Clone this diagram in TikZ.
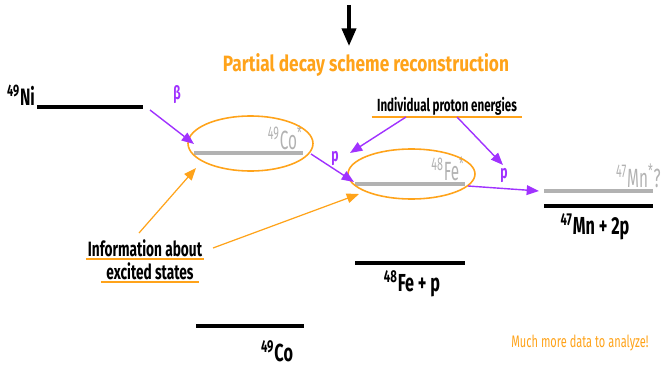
\documentclass[tikz,border=0pt]{standalone}
\usepackage{fontspec}
\setmainfont[FakeStretch=0.66]{Fira Sans}
\newfontfamily\titlefont[FakeStretch=0.78]{Fira Sans}
\newfontfamily\exfont[FakeStretch=0.58]{Fira Sans}
\usetikzlibrary{arrows.meta,positioning,calc,shapes.geometric}
\definecolor{decayorange}{RGB}{255,163,26}
\definecolor{decaypurple}{RGB}{160,50,255}
\definecolor{levelgray}{RGB}{178,178,178}
\tikzset{
  level/.style={line width=2.4pt},
  exlevel/.style={line width=2.4pt, levelgray},
  pline/.style={decaypurple, line width=0.8pt, -{Triangle[length=7pt,width=5.5pt]}},
  oline/.style={decayorange, line width=0.7pt, -{Triangle[length=7pt,width=5.5pt]}},
  uline/.style={decayorange, line width=1pt},
  region/.style={ellipse, draw=decayorange, line width=0.9pt, inner sep=0pt},
  lab/.style={font=\fontsize{13.5}{15}\selectfont\bfseries},
  exlab/.style={font=\exfont\fontsize{15}{16}\selectfont, levelgray},
  note/.style={font=\fontsize{10.5}{12}\selectfont\bfseries, inner sep=1pt}
}

\begin{document}
\begin{tikzpicture}[x=0.02cm, y=-0.02cm]
    \useasboundingbox (0,0) rectangle (662,368);
    % arrow and title
    \coordinate (arrS) at (349,5);
    \coordinate (arrE) at (349,46);
    \draw[line width=2pt, -{Triangle[length=10pt,width=8pt]}] (arrS) -- (arrE);
    \node[decayorange, font=\titlefont\fontsize{12.6}{15}\selectfont\bfseries] (title) at (366,65) {Partial decay scheme reconstruction};

    % 49Ni
    \coordinate (niL) at (37,107);
    \coordinate (niR) at (143,107);
    \draw[level] (niL) -- (niR);
    \node[lab, anchor=base east, inner sep=1pt] (ni) at (37,106) {\textsuperscript{49}Ni};

    % 49Co*
    \coordinate (coxL) at (194,153);
    \coordinate (coxR) at (303,153);
    \draw[exlevel] (coxL) -- (coxR);
    \node[exlab, anchor=base east, inner sep=0pt] (coxlab) at (303,149) {\textsuperscript{49}Co\textsuperscript{*}};
    \node[region, minimum width=2.5cm, minimum height=1.1cm] (coell) at (250.5,143.5) {};

    % 48Fe*
    \coordinate (fexL) at (355,184);
    \coordinate (fexR) at (465,184);
    \draw[exlevel] (fexL) -- (fexR);
    \node[exlab, anchor=base east, inner sep=0pt] (fexlab) at (465,180) {\textsuperscript{48}Fe\textsuperscript{*}};
    \node[region, minimum width=2.54cm, minimum height=1.0cm] (feell) at (411.5,174) {};

    % 47Mn*
    \coordinate (mnxL) at (544,191);
    \coordinate (mnxR) at (653,191);
    \draw[exlevel] (mnxL) -- (mnxR);
    \node[exlab, anchor=base east, inner sep=0pt] (mnxlab) at (661,187) {\textsuperscript{47}Mn\textsuperscript{*}?};

    % ground levels
    \coordinate (mnL) at (544,206);
    \coordinate (mnR) at (653,206);
    \draw[level] (mnL) -- (mnR);
    \node[lab, font=\fontsize{14}{15}\selectfont\bfseries] (mnlab) at (595,227) {\textsuperscript{47}Mn + 2p};

    \coordinate (feL) at (355,263);
    \coordinate (feR) at (465,263);
    \draw[level] (feL) -- (feR);
    \node[lab, font=\fontsize{14}{15}\selectfont\bfseries] (felab) at (412,284) {\textsuperscript{48}Fe + p};

    \coordinate (coL) at (196,326);
    \coordinate (coR) at (304,326);
    \draw[level] (coL) -- (coR);
    \node[lab, font=\fontsize{14}{15}\selectfont\bfseries] (colab) at (277,351) {\textsuperscript{49}Co};

    % decay arrows
    \coordinate (betaS) at (150,110);
    \coordinate (betaE) at (194,144);
    \draw[pline] (betaS) -- (betaE);
    \node[decaypurple, note] (beta) at (177,95) {β};

    \coordinate (pAS) at (311,154);
    \coordinate (pAE) at (354,182);
    \draw[pline] (pAS) -- (pAE);
    \node[decaypurple, note] (pA) at (335,158) {p};

    \coordinate (pBS) at (468,186);
    \coordinate (pBE) at (539,191);
    \draw[pline] (pBS) -- (pBE);
    \node[decaypurple, note] (pB) at (504,175) {p};

    % proton energies
    \node[note, font=\fontsize{10}{12}\selectfont\bfseries, inner xsep=3pt] (indiv) at (447,106) {Individual proton energies};
    \draw[uline] (indiv.south west) -- (indiv.south east);
    \coordinate (indA) at (406,117);
    \coordinate (indAE) at (350,153);
    \coordinate (indB) at (457,117);
    \coordinate (indBE) at (503,165);
    \draw[pline] (indA) -- (indAE);
    \draw[pline] (indB) -- (indBE);

    % excited states
    \node[note, font=\fontsize{11.8}{13}\selectfont\bfseries] (info1) at (145,248) {Information about};
    \node[note, font=\fontsize{11.8}{13}\selectfont\bfseries, inner xsep=3pt] (info2) at (150,271) {excited states};
    \draw[uline] (info1.south west) -- (info1.south east);
    \draw[uline] (info2.south west) -- (info2.south east);
    \coordinate (infA) at (139,233);
    \coordinate (infAE) at (196,168);
    \coordinate (infB) at (213,248);
    \coordinate (infBE) at (359,194);
    \draw[oline] (infA) -- (infAE);
    \draw[oline] (infB) -- (infBE);

    \node[decayorange, font=\fontsize{9.5}{11}\selectfont] (more) at (580,343) {Much more data to analyze!};
  \end{tikzpicture}
\end{document}
